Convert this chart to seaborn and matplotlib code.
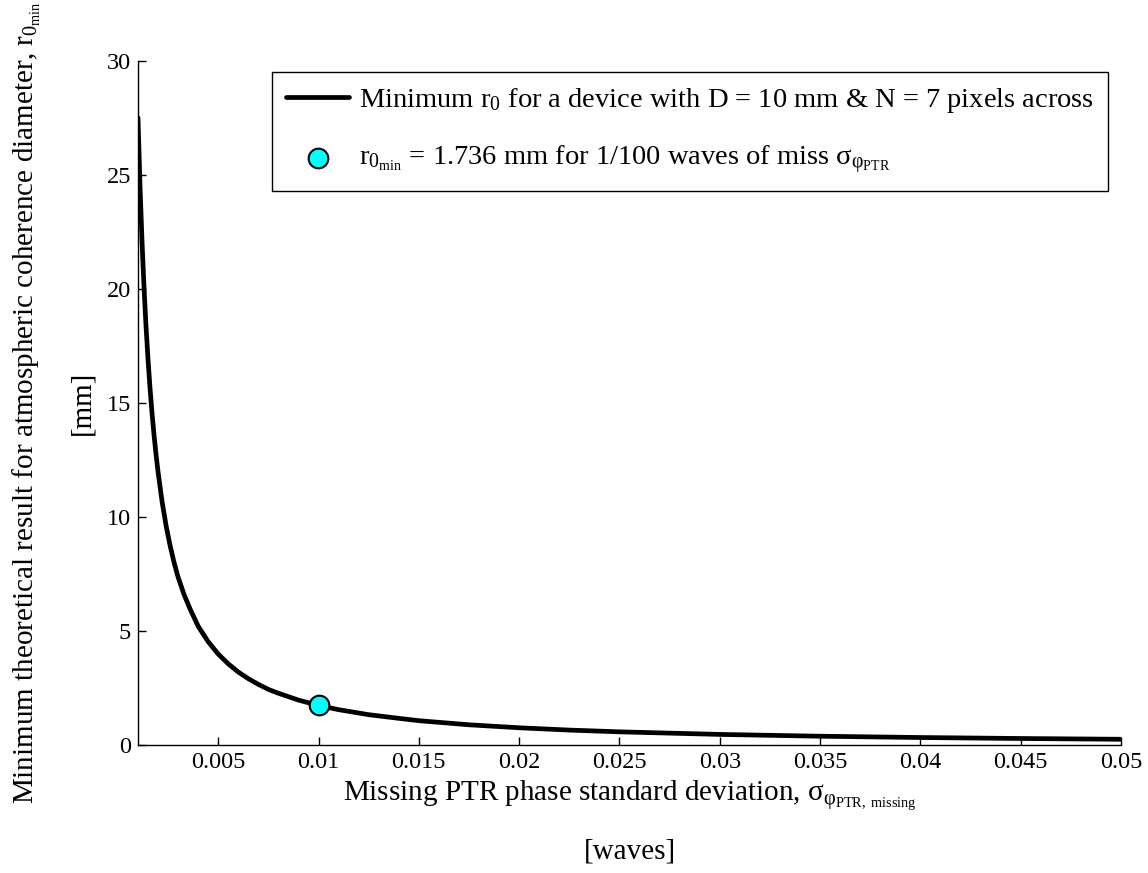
import matplotlib
matplotlib.use("Agg")
import matplotlib.pyplot as plt
import seaborn as sns
import pandas as pd

# missing PTR phase std (waves) vs minimum r0 (mm)
sigma_waves = [0.001, 0.0011, 0.0012, 0.0013, 0.0014, 0.0015, 0.0016, 0.0017,
               0.0018, 0.0019, 0.002, 0.0022, 0.0024, 0.0026, 0.0028, 0.003,
               0.0033, 0.0036, 0.004, 0.0045, 0.005, 0.0055, 0.006, 0.0065,
               0.007, 0.0075, 0.008, 0.009, 0.01, 0.011, 0.0125, 0.014,
               0.015, 0.0175, 0.02, 0.0225, 0.025, 0.03, 0.035, 0.04,
               0.045, 0.05]
r0_min_mm = [27.51, 24.55, 22.11, 20.08, 18.37, 16.91, 15.65, 14.55,
             13.59, 12.74, 11.98, 10.68, 9.62, 8.75, 8.00, 7.36,
             6.59, 5.96, 5.21, 4.53, 3.99, 3.56, 3.20, 2.91,
             2.66, 2.44, 2.27, 1.97, 1.736, 1.55, 1.33, 1.17,
             1.067, 0.887, 0.756, 0.655, 0.578, 0.465, 0.386, 0.329,
             0.286, 0.252]

# highlighted point
point_sigma = [0.01]
point_r0 = [1.736]

x_ticks = [0.005, 0.01, 0.015, 0.02, 0.025, 0.03, 0.035, 0.04, 0.045, 0.05]
x_tick_labels = ["0.005", "0.01", "0.015", "0.02", "0.025", "0.03", "0.035", "0.04", "0.045", "0.05"]
y_ticks = [0, 5, 10, 15, 20, 25, 30]

sns.set_theme(style="ticks")
plt.rcParams["font.family"] = ["Liberation Serif", "DejaVu Serif"]
plt.rcParams["mathtext.fontset"] = "custom"
plt.rcParams["mathtext.rm"] = "Liberation Serif"
plt.rcParams["mathtext.it"] = "Liberation Serif:italic"
plt.rcParams["mathtext.default"] = "rm"
plt.rcParams["text.color"] = "black"
plt.rcParams["axes.labelcolor"] = "black"

df = pd.DataFrame({"sigma": sigma_waves, "r0": r0_min_mm})
df_pt = pd.DataFrame({"sigma": point_sigma, "r0": point_r0})

fig = plt.figure(figsize=(11.48, 8.73), dpi=100)
ax = fig.add_axes([0.1202, 0.1466, 0.8563, 0.7835])

sns.lineplot(data=df, x="sigma", y="r0", color="black", linewidth=3.4, ax=ax,
             label="Minimum r$_0$ for a device with D = 10 mm & N = 7 pixels across")
sns.scatterplot(data=df_pt, x="sigma", y="r0", color="#00ffff", edgecolor="black",
                linewidth=1.5, s=200, zorder=5, ax=ax,
                label="r$_{0_{min}}$ = 1.736 mm for 1/100 waves of miss σ$_{φ_{PTR}}$")

ax.set_xlim(0.001, 0.05)
ax.set_ylim(0, 30)
ax.set_xticks(x_ticks)
ax.set_xticklabels(x_tick_labels)
ax.set_yticks(y_ticks)
ax.tick_params(direction="in", length=6, width=1, labelsize=17.5, colors="black", pad=5)
for s in ["top", "right"]:
    ax.spines[s].set_visible(False)
for s in ["left", "bottom"]:
    ax.spines[s].set_color("black")
    ax.spines[s].set_linewidth(1)

ax.set_xlabel("Missing PTR phase standard deviation, σ$_{φ_{PTR,\\ missing}}$\n[waves]",
              fontsize=21, labelpad=4, linespacing=2.3)
ax.set_ylabel("Minimum theoretical result for atmospheric coherence diameter, r$_{0_{min}}$\n[mm]",
              fontsize=21, labelpad=8, linespacing=2.3)

leg = ax.legend(loc="upper left", bbox_to_anchor=(272 / 1148, 1 - 72 / 873),
                bbox_transform=fig.transFigure, fontsize=20.5, frameon=True,
                fancybox=False, framealpha=1, edgecolor="black",
                handlelength=2.2, handletextpad=0.35, labelspacing=1.0,
                borderpad=0.5, borderaxespad=0)
leg.get_frame().set_linewidth(1)

fig.savefig("out.png", dpi=100)
